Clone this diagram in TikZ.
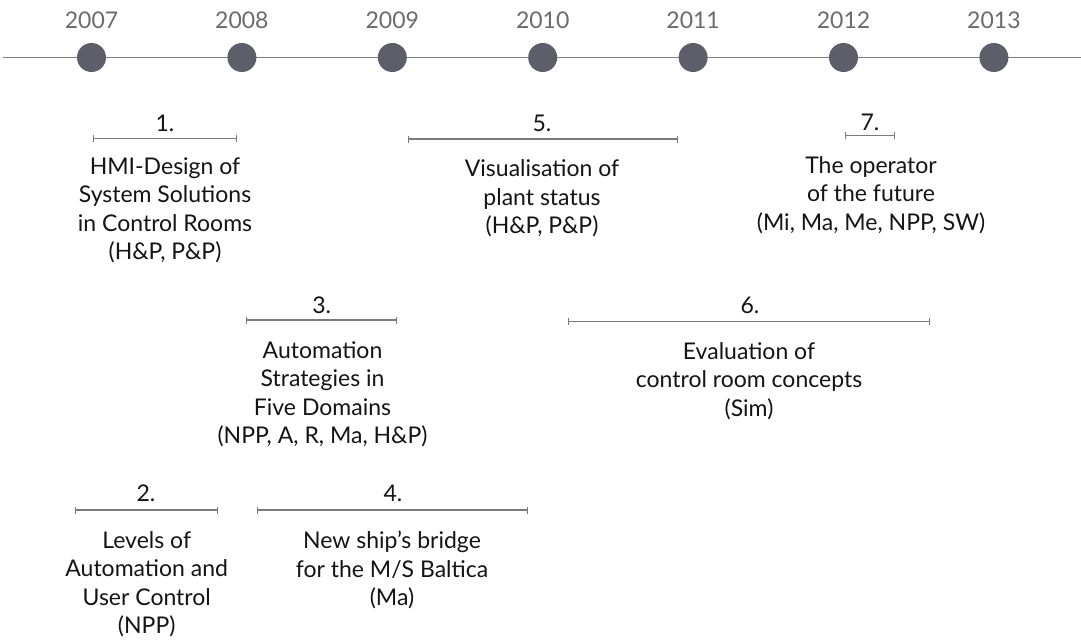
\documentclass[tikz,border=0pt]{standalone}
\usepackage{fontspec}
\setmainfont{Lato}
\usetikzlibrary{arrows.meta}

\definecolor{dotcol}{HTML}{5E5E6B}
\definecolor{axiscol}{HTML}{7F7F7F}
\definecolor{yearcol}{HTML}{6B6B6B}
\definecolor{spancol}{HTML}{7A7A7A}
\definecolor{textcol}{HTML}{141414}

\begin{document}
\begin{tikzpicture}[x=1pt,y=-1pt,
  axis/.style={draw=axiscol,line width=1.5pt},
  dot/.style={circle,fill=dotcol,minimum size=29pt,inner sep=0pt},
  year/.style={text=yearcol,font=\fontsize{23}{26}\selectfont,anchor=base,inner sep=0pt},
  span/.style={draw=spancol,line width=1.1pt,{Bar[width=7pt]}-{Bar[width=7pt]}},
  num/.style={text=textcol,font=\fontsize{23}{26}\selectfont,anchor=base,inner sep=0pt},
  desc/.style={text=textcol,font=\fontsize{23}{28.5}\selectfont,align=center,anchor=north,inner sep=0pt}
]
\useasboundingbox (0,0) rectangle (1081,643);

% time axis
\coordinate (axL) at (3,57.5);
\coordinate (axR) at (1081,57.5);
\draw[axis] (axL) -- (axR);

% years
\foreach \yr [count=\i from 0] in {2007,2008,2009,2010,2011,2012,2013} {
  \node[dot] (d\yr) at (91.5+150.4*\i,57.5) {};
  \node[year] (y\yr) at (91.5+150.4*\i,28.3) {\yr};
}

% project 1
\coordinate (p1a) at (93,138.3);
\coordinate (p1b) at (237,138.3);
\draw[span] (p1a) -- (p1b);
\node[num] (n1) at (165,131.5) {1.};
\node[desc] (t1) at (165,157.5) {HMI-Design of\\System Solutions\\in Control Rooms\\(H\&P, P\&P)};

% project 5
\coordinate (p5a) at (408,139);
\coordinate (p5b) at (678,139);
\draw[span] (p5a) -- (p5b);
\node[num] (n5) at (542,131.7) {5.};
\node[desc] (t5) at (542,159.5) {Visualisation of\\plant status\\(H\&P, P\&P)};

% project 7
\coordinate (p7a) at (845,135.7);
\coordinate (p7b) at (895,135.7);
\draw[span] (p7a) -- (p7b);
\node[num] (n7) at (870,130) {7.};
\node[desc] (t7) at (871,156) {The operator\\of the future\\(Mi, Ma, Me, NPP, SW)};

% project 3
\coordinate (p3a) at (246,320);
\coordinate (p3b) at (397,320);
\draw[span] (p3a) -- (p3b);
\node[num] (n3) at (321.7,313.3) {3.};
\node[desc] (t3) at (322.5,341) {Automation\\Strategies in\\Five Domains\\(NPP, A, R, Ma, H\&P)};

% project 6
\coordinate (p6a) at (568,321.7);
\coordinate (p6b) at (930,321.7);
\draw[span] (p6a) -- (p6b);
\node[num] (n6) at (750,313.3) {6.};
\node[desc] (t6) at (749,342) {Evaluation of\\control room concepts\\(Sim)};

% project 2
\coordinate (p2a) at (75,510);
\coordinate (p2b) at (218,510);
\draw[span] (p2a) -- (p2b);
\node[num] (n2) at (146,501.7) {2.};
\node[desc] (t2) at (146.7,531) {Levels of\\Automation and\\User Control\\(NPP)};

% project 4
\coordinate (p4a) at (257,510);
\coordinate (p4b) at (528,510);
\draw[span] (p4a) -- (p4b);
\node[num] (n4) at (393,501.7) {4.};
\node[desc] (t4) at (392,531) {New ship’s bridge\\for the M/S Baltica\\(Ma)};
\end{tikzpicture}
\end{document}
